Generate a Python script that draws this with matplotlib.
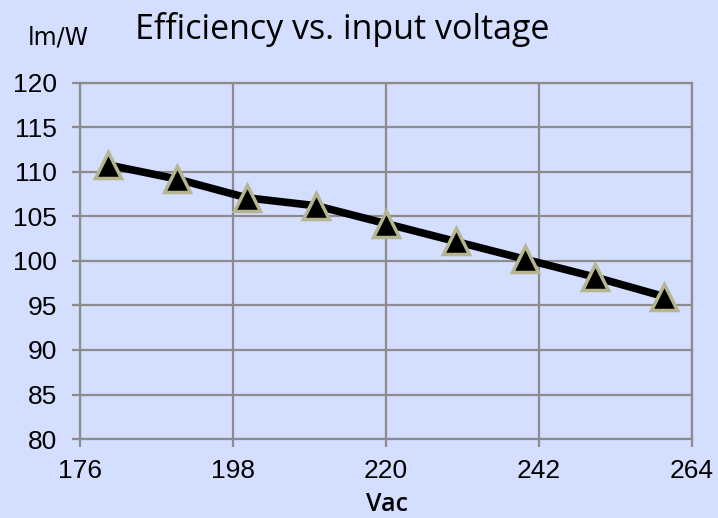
import numpy as np
import matplotlib
matplotlib.use('Agg')
import matplotlib.pyplot as plt

# data
vac = [180, 190, 200, 210, 220, 230, 240, 250, 260]
lm_w = [110.8, 109.2, 107.1, 106.2, 104.2, 102.2, 100.2, 98.2, 96.0]
x_ticks = [176, 198, 220, 242, 264]
y_ticks = [80, 85, 90, 95, 100, 105, 110, 115, 120]

bg = '#D4DEFF'
grid = '#8C8C8C'

plt.rcParams['font.family'] = ['Liberation Sans', 'DejaVu Sans']

fig = plt.figure(figsize=(7.18, 5.18), dpi=100, facecolor=bg)
ax = fig.add_axes([0.1114, 0.1525, 0.8524, 0.6873], facecolor=bg)

ax.plot(vac, lm_w, color='black', lw=5.5, zorder=3, solid_capstyle='round')
ax.plot(vac, lm_w, ls='none', marker='^', ms=19, mfc='black', mec='#B5B58F', mew=2.5, zorder=4)

ax.set_xlim(176, 264)
ax.set_ylim(80, 120)
ax.set_xticks(x_ticks)
ax.set_yticks(y_ticks)
ax.grid(True, color=grid, lw=1.6)
ax.set_axisbelow(True)
for s in ax.spines.values():
    s.set_color(grid)
    s.set_linewidth(1.6)
ax.tick_params(direction='out', length=5.5, width=1.6, color=grid, labelsize=19)
ax.tick_params(axis='y', pad=11)
ax.tick_params(axis='x', pad=9)

fig.text(0.477, 0.944, 'Efficiency vs. input voltage', ha='center', va='center',
         fontsize=24.5, family='Open Sans')
fig.text(0.081, 0.928, 'lm/W', ha='center', va='center', fontsize=17, family='DejaVu Sans')
fig.text(0.539, 0.026, 'Vac', ha='center', va='center', fontsize=18, family='Open Sans',
         fontweight='semibold')

fig.savefig('out.png', dpi=100, facecolor=bg)
